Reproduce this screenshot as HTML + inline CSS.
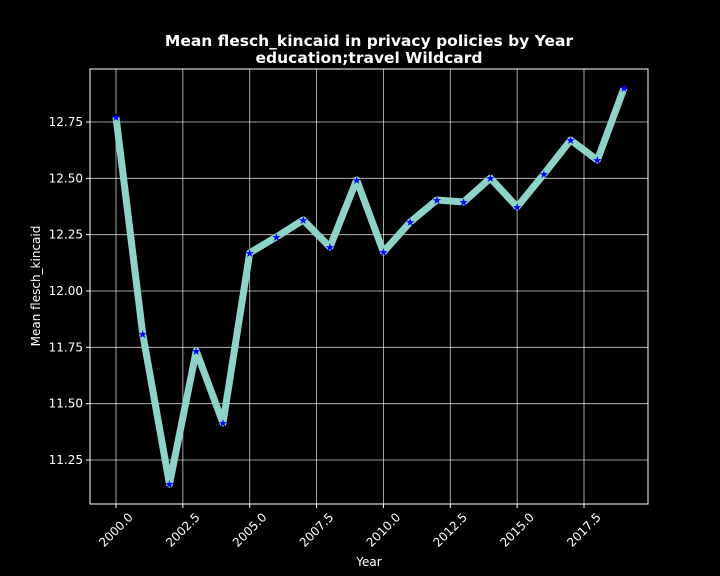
<!DOCTYPE html>
<html><head><meta charset="utf-8"><style>
html,body{margin:0;padding:0;background:#000;}
svg{display:block;font-family:"DejaVu Sans","Liberation Sans",sans-serif;}
</style></head><body>
<svg id="chart" width="720" height="576" viewBox="0 0 720 576" xmlns="http://www.w3.org/2000/svg">
<rect width="720" height="576" fill="#000"/>
<text x="369" y="46" text-anchor="middle" fill="#fff" font-size="15.5" font-weight="bold">Mean flesch_kincaid in privacy policies by Year</text>
<text x="369" y="63" text-anchor="middle" fill="#fff" font-size="15.5" font-weight="bold">education;travel Wildcard</text>
<g id="grid"></g>
<g id="ticks"></g>
<g id="series"></g>
<rect x="90" y="69" width="558" height="435" fill="none" stroke="#fff" stroke-width="1"/>
<text x="369" y="566" text-anchor="middle" fill="#fff" font-size="12">Year</text>
<text transform="translate(40,286) rotate(-90)" text-anchor="middle" fill="#fff" font-size="12">Mean flesch_kincaid</text>
</svg>
<script>
const years=[2000,2001,2002,2003,2004,2005,2006,2007,2008,2009,2010,2011,2012,2013,2014,2015,2016,2017,2018,2019];
const values=[12.772,11.809,11.143,11.734,11.414,12.169,12.24,12.315,12.195,12.493,12.173,12.306,12.404,12.395,12.501,12.373,12.519,12.67,12.581,12.901];
const xTicks=[2000,2002.5,2005,2007.5,2010,2012.5,2015,2017.5];
const xTickLabels=["2000.0","2002.5","2005.0","2007.5","2010.0","2012.5","2015.0","2017.5"];
const yTicks=[11.25,11.5,11.75,12,12.25,12.5,12.75];
const yTickLabels=["11.25","11.50","11.75","12.00","12.25","12.50","12.75"];
const NS="http://www.w3.org/2000/svg";
const X=v=>116+(v-2000)*(468/17.5);
const Y=v=>460-(v-11.25)*(338/1.5);
function mk(t,a,p){const e=document.createElementNS(NS,t);for(const k in a)e.setAttribute(k,a[k]);p.appendChild(e);return e;}
const grid=document.getElementById('grid'),ticks=document.getElementById('ticks'),series=document.getElementById('series');
xTicks.forEach((v,i)=>{
 const x=X(v);
 const g=mk('line',{x1:x,x2:x,y1:69,y2:504,stroke:'#fff','stroke-width':0.8,'stroke-opacity':0.8},grid);
 
 
 mk('line',{x1:x,x2:x,y1:504,y2:508,stroke:'#fff'},ticks);
 const t=mk('text',{x:x,y:534,fill:'#fff','font-size':12,'text-anchor':'middle',transform:`rotate(-45 ${x} 530)`},ticks);
 t.textContent=xTickLabels[i];
 
 
});
yTicks.forEach((v,i)=>{
 const y=Y(v);
 const g=mk('line',{x1:90,x2:648,y1:y,y2:y,stroke:'#fff','stroke-width':0.8,'stroke-opacity':0.8},grid);
 
 
 mk('line',{x1:86,x2:90,y1:y,y2:y,stroke:'#fff'},ticks);
 const t=mk('text',{x:83,y:y+4,fill:'#fff','font-size':12,'text-anchor':'end'},ticks);
 t.textContent=yTickLabels[i];
 
 
});
const pts=years.map((yr,i)=>X(yr)+','+Y(values[i])).join(' ');
const line=mk('polyline',{points:pts,fill:'none',stroke:'#8dd3c7','stroke-width':7,'stroke-linejoin':'round'},series);


years.forEach((yr,i)=>{
 const t=mk('text',{x:X(yr),y:Y(values[i])+4,fill:'#0000ff','font-size':11,'text-anchor':'middle'},series);
 t.textContent='★';
 
 
});
</script>
</body></html>
